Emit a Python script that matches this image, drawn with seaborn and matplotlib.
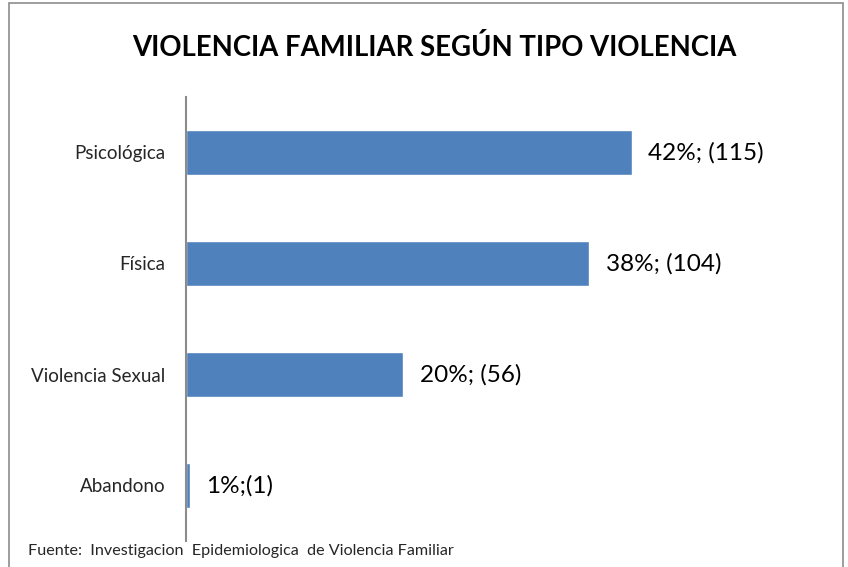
import seaborn as sns
import matplotlib.pyplot as plt
import matplotlib.patches as patches
import pandas as pd

# Chart data
categorias = ["Psicológica", "Física", "Violencia Sexual", "Abandono"]
casos = [115, 104, 56, 1]
etiquetas = ["42%; (115)", "38%; (104)", "20%; (56)", "1%;(1)"]

titulo = "VIOLENCIA FAMILIAR SEGÚN TIPO VIOLENCIA"
fuente = "Fuente:  Investigacion  Epidemiologica  de Violencia Familiar"

df = pd.DataFrame({"tipo": categorias, "casos": casos})

sns.set_style("white")
plt.rcParams['font.family'] = ['Lato', 'DejaVu Sans']

fig = plt.figure(figsize=(8.48, 5.67), dpi=100)
ax = fig.add_axes([186 / 848, 26 / 567, 620 / 848, 444 / 567])

sns.barplot(data=df, y="tipo", x="casos", orient="h", color="#4F81BD",
            width=0.4, saturation=1, ax=ax)

# Value labels at the end of each bar
for i, (v, lab) in enumerate(zip(casos, etiquetas)):
    ax.annotate(lab, (v, i), xytext=(12, 0), textcoords="offset points",
                va="center", ha="left", fontsize=17.5, color="black")

ax.set_xlim(0, 160)
ax.set_ylim(3.5, -0.5)
ax.set_xlabel("")
ax.set_ylabel("")
ax.set_xticks([])
ax.tick_params(axis="y", length=0, pad=15, labelsize=13.5)
for s in ["top", "right", "bottom"]:
    ax.spines[s].set_visible(False)
ax.spines["left"].set_color("#8c8c8c")
ax.spines["left"].set_linewidth(1.5)

fig.text(434 / 848, 1 - 48 / 567, titulo, ha="center", va="center",
         fontsize=19.8, fontweight="bold", color="black")
fig.text(28 / 848, 1 - 551 / 567, fuente, ha="left", va="center", fontsize=11.6)

# Outer chart border
border = patches.Rectangle((9 / 848, -0.05), 834 / 848, 1.05 - 3 / 567,
                           transform=fig.transFigure, fill=False,
                           edgecolor="#8c8c8c", linewidth=1.2, clip_on=False)
fig.patches.append(border)

fig.savefig("out.png", dpi=100)
